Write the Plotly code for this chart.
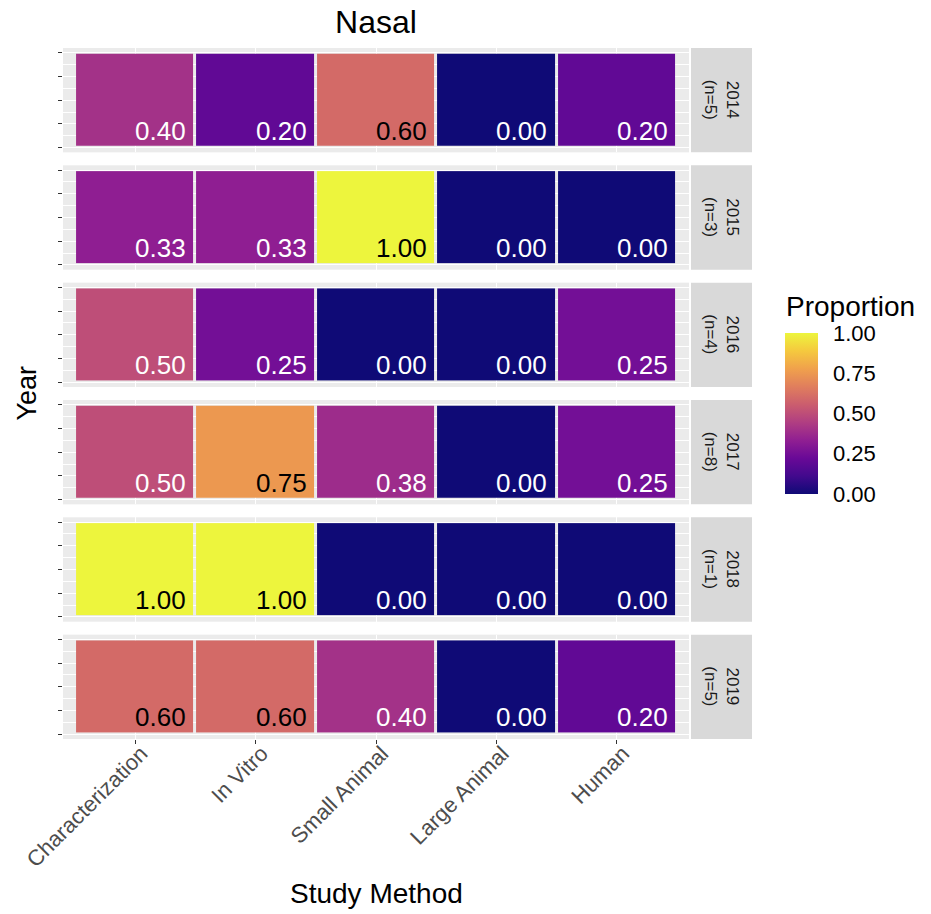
import plotly.graph_objects as go
from plotly.colors import sequential, hex_to_rgb

# ---- data -------------------------------------------------------------
methods = ["Characterization", "In Vitro", "Small Animal", "Large Animal", "Human"]
years = ["2014", "2015", "2016", "2017", "2018", "2019"]
n_studies = [5, 3, 4, 8, 1, 5]

prop_2014 = [0.40, 0.20, 0.60, 0.00, 0.20]
prop_2015 = [0.33, 0.33, 1.00, 0.00, 0.00]
prop_2016 = [0.50, 0.25, 0.00, 0.00, 0.25]
prop_2017 = [0.50, 0.75, 0.38, 0.00, 0.25]
prop_2018 = [1.00, 1.00, 0.00, 0.00, 0.00]
prop_2019 = [0.60, 0.60, 0.40, 0.00, 0.20]
proportions = [prop_2014, prop_2015, prop_2016, prop_2017, prop_2018, prop_2019]

colorbar_ticks = [0.00, 0.25, 0.50, 0.75, 1.00]


# plasma palette, slightly muted
def muted(hex_color, amount=0.15):
    r, g, b = hex_to_rgb(hex_color)
    lum = 0.299 * r + 0.587 * g + 0.114 * b
    r, g, b = (c + amount * (lum - c) for c in (r, g, b))
    return f"rgb({r:.0f},{g:.0f},{b:.0f})"


plasma = sequential.Plasma
colorscale = [[i / (len(plasma) - 1), muted(c)] for i, c in enumerate(plasma)]

# ---- figure geometry ---------------------------------------------------
W, H = 931, 914
M_L, M_R, M_T, M_B = 63, 242, 48, 175
plot_w = W - M_L - M_R
plot_h = H - M_T - M_B
gap_px = 13
n_rows = len(years)
panel_h = (plot_h - gap_px * (n_rows - 1)) / n_rows

FONT = "Liberation Sans, Arial, Helvetica, sans-serif"


def py(px):
    """paper y coordinate for a pixel row of the page"""
    return 1 - (px - M_T) / plot_h


def pxx(px):
    """paper x coordinate for a pixel column of the page"""
    return (px - M_L) / plot_w


fig = go.Figure()
layout_axes = {}
annotations = []
shapes = []

x_idx = list(range(len(methods)))

for r, (yr, n, vals) in enumerate(zip(years, n_studies, proportions)):
    k = r + 1
    xa = "x" if k == 1 else f"x{k}"
    ya = "y" if k == 1 else f"y{k}"
    top_px = r * (panel_h + gap_px)
    y1 = 1 - top_px / plot_h
    y0 = 1 - (top_px + panel_h) / plot_h

    fig.add_trace(go.Heatmap(
        x=x_idx, y=[0], z=[vals],
        coloraxis="coloraxis",
        xgap=3, ygap=3,
        xaxis=xa, yaxis=ya,
        hovertemplate="%{z:.2f}<extra></extra>",
    ))

    bottom = (r == n_rows - 1)
    layout_axes[("xaxis" if k == 1 else f"xaxis{k}")] = dict(
        domain=[0, 1], anchor=ya, range=[-0.6, len(methods) - 0.4],
        tickvals=x_idx, ticktext=methods if bottom else [""] * len(methods),
        showticklabels=bottom, ticks="outside" if bottom else "",
        ticklen=4, tickwidth=1, tickcolor="#333333",
        tickangle=-45, tickfont=dict(family=FONT, size=22, color="#4D4D4D"),
        ticklabelstandoff=-12, ticklabelshift=6,
        showgrid=True, gridcolor="white", gridwidth=1,
        zeroline=False, showline=False, fixedrange=True,
    )
    layout_axes[("yaxis" if k == 1 else f"yaxis{k}")] = dict(
        domain=[y0, y1], anchor=xa, range=[-0.55, 0.55],
        tickvals=[-0.5, -0.25, 0, 0.25, 0.5], showticklabels=False,
        ticks="outside", ticklen=4, tickwidth=1, tickcolor="#333333",
        showgrid=True, gridcolor="white", gridwidth=1,
        minor=dict(dtick=0.125, tick0=0, showgrid=True, gridcolor="white", gridwidth=0.5),
        zeroline=False, showline=False, fixedrange=True,
    )

    # value labels in the lower-right corner of each tile
    for i, v in enumerate(vals):
        annotations.append(dict(
            x=i + 0.44, y=-0.5, xref=xa, yref=ya,
            xanchor="right", yanchor="bottom", showarrow=False,
            text=f"{v:.2f}",
            font=dict(family=FONT, size=26, color="black" if v >= 0.6 else "white"),
        ))

    # facet strip on the right
    sx0, sx1 = pxx(691), pxx(752)
    shapes.append(dict(type="rect", xref="paper", yref="paper",
                       x0=sx0, x1=sx1, y0=y0, y1=y1,
                       fillcolor="#D9D9D9", line=dict(width=0), layer="below"))
    annotations.append(dict(
        x=(sx0 + sx1) / 2, y=(y0 + y1) / 2, xref="paper", yref="paper",
        text=f"{yr}<br>(n={n})", textangle=90, showarrow=False,
        xanchor="center", yanchor="middle",
        font=dict(family=FONT, size=17, color="#1A1A1A"),
    ))

# axis titles
annotations.append(dict(
    x=pxx(26), y=0.5, xref="paper", yref="paper",
    text="Year", textangle=-90, showarrow=False,
    xanchor="center", yanchor="middle",
    font=dict(family=FONT, size=27, color="black"),
))
annotations.append(dict(
    x=0.5, y=py(893), xref="paper", yref="paper",
    text="Study Method", showarrow=False, xanchor="center", yanchor="middle",
    font=dict(family=FONT, size=28, color="black"),
))

# legend title placed above the colour bar
annotations.append(dict(
    x=pxx(784), y=py(306), xref="paper", yref="paper",
    text="Proportion", showarrow=False, xanchor="left", yanchor="middle",
    font=dict(family=FONT, size=28, color="black"),
))

cb_top_px, cb_bottom_px = 333, 494
cb_len = cb_bottom_px - cb_top_px
cb_center_px = (cb_top_px + cb_bottom_px) / 2
fig.update_layout(
    width=W, height=H,
    margin=dict(l=M_L, r=M_R, t=M_T, b=M_B),
    paper_bgcolor="white", plot_bgcolor="#EBEBEB",
    title=dict(text="Nasal", x=0.5, xref="paper", xanchor="center",
               y=1 - 22 / H, yanchor="middle",
               font=dict(family=FONT, size=32, color="black")),
    coloraxis=dict(
        colorscale=colorscale, cmin=0, cmax=1,
        colorbar=dict(
            x=pxx(785), xanchor="left", xref="paper",
            y=py(cb_center_px), yanchor="middle", yref="paper",
            thickness=33, thicknessmode="pixels",
            len=cb_len, lenmode="pixels",
            tickvals=colorbar_ticks, ticktext=[f"{t:.2f}" for t in colorbar_ticks],
            ticks="outside", ticklen=11, tickcolor="white", tickwidth=1,
            tickfont=dict(family=FONT, size=22, color="black"),
            outlinewidth=0, xpad=0, ypad=0,
        ),
    ),
    annotations=annotations,
    shapes=shapes,
    showlegend=False,
    **layout_axes,
)

fig.write_html("out.html")
